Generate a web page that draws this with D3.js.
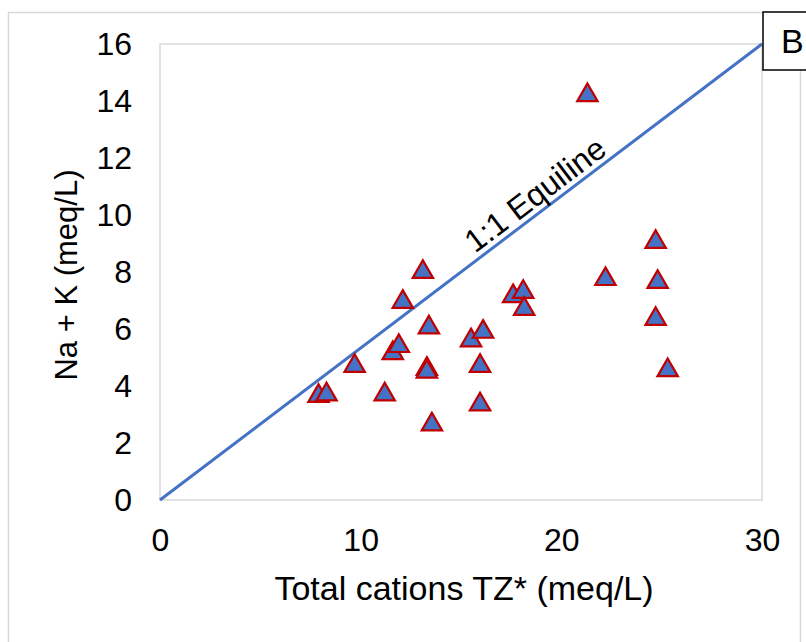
<!DOCTYPE html>
<html>
<head>
<meta charset="utf-8">
<script src="https://cdn.jsdelivr.net/npm/d3@7"></script>
<style>
  body { margin: 0; background: #fff; }
  text { font-family: "Liberation Sans", Arial, sans-serif; fill: #000; }
</style>
</head>
<body>
<div id="chart"></div>
<script>
"use strict";
// Sample values
const totalCations = [7.9, 8.3, 9.7, 11.2, 11.6, 11.9, 12.1, 13.1, 13.4, 13.3, 13.3, 13.55,
  15.5, 16.1, 15.95, 15.95, 17.6, 18.1, 18.15, 21.3, 22.2, 24.7, 24.8, 24.7, 25.3];
const naK = [3.65, 3.7, 4.7, 3.7, 5.15, 5.4, 6.95, 8.0, 6.05, 4.6, 4.5, 2.65,
  5.6, 5.9, 4.7, 3.35, 7.15, 7.3, 6.7, 14.2, 7.75, 9.05, 7.65, 6.35, 4.55];
const xTicks = [0, 10, 20, 30];
const yTicks = [0, 2, 4, 6, 8, 10, 12, 14, 16];
const equiline = [[0, 0], [30, 16]];

const W = 806, H = 642;
const margin = { top: 44, right: 44, bottom: 142, left: 160 };
const width = W - margin.left - margin.right,
  height = H - margin.top - margin.bottom;

const svg = d3.select("#chart").append("svg")
  .attr("width", W)
  .attr("height", H);

// outer chart frame
svg.append("rect")
  .attr("x", 8.5).attr("y", 12.5)
  .attr("width", 792).attr("height", 660)
  .attr("fill", "none")
  .attr("stroke", "#d9d9d9")
  .attr("stroke-width", 1.5);

const x = d3.scaleLinear().domain([0, 30]).range([0, width]);
const y = d3.scaleLinear().domain([0, 16]).range([height, 0]);

const g = svg.append("g")
  .attr("transform", "translate(" + margin.left + "," + margin.top + ")");

// plot area border
g.append("rect")
  .attr("width", width).attr("height", height)
  .attr("fill", "none")
  .attr("stroke", "#d9d9d9")
  .attr("stroke-width", 1.5);

// axes (labels only)
const xAxis = g.append("g")
  .attr("transform", "translate(0," + height + ")")
  .call(d3.axisBottom(x).tickValues(xTicks).tickSize(0).tickPadding(28));
const yAxis = g.append("g")
  .call(d3.axisLeft(y).tickValues(yTicks).tickSize(0).tickPadding(28));
[xAxis, yAxis].forEach(a => {
  a.select(".domain").remove();
  a.selectAll("text")
    .style("font-family", "'Liberation Sans', Arial, sans-serif")
    .style("font-size", "32px")
    .attr("fill", "#1a1a1a");
});

// 1:1 line
const line = d3.line().x(d => x(d[0])).y(d => y(d[1]));
g.append("path")
  .datum(equiline)
  .attr("d", line)
  .attr("fill", "none")
  .attr("stroke", "#4472c4")
  .attr("stroke-width", 3);

// rotated line label
const angle = Math.atan2(y(16) - y(0), x(30) - x(0)) * 180 / Math.PI;
const lx = x(19.2), ly = y(19.2 * 16 / 30);
g.append("text")
  .attr("transform", "translate(" + lx + "," + ly + ") rotate(" + angle + ")")
  .attr("dy", -6)
  .attr("text-anchor", "middle")
  .style("font-size", "32px")
  .attr("fill", "#1a1a1a")
  .text("1:1 Equiline");

// triangles
const tri = d3.symbol().type(d3.symbolTriangle).size(180);
g.selectAll(".pt")
  .data(totalCations.map((v, i) => [v, naK[i]]))
  .enter().append("path")
  .attr("class", "pt")
  .attr("d", tri)
  .attr("transform", d => "translate(" + x(d[0]) + "," + y(d[1]) + ")")
  .attr("fill", "#4472c4")
  .attr("stroke", "#c00000")
  .attr("stroke-width", 2.2);

// axis titles
svg.append("text")
  .attr("x", 464)
  .attr("y", 600)
  .attr("text-anchor", "middle")
  .style("font-size", "34px")
  .attr("fill", "#1a1a1a")
  .text("Total cations TZ* (meq/L)");
svg.append("text")
  .attr("transform", "translate(77,275) rotate(-90)")
  .attr("text-anchor", "middle")
  .style("font-size", "31px")
  .attr("fill", "#1a1a1a")
  .text("Na + K (meq/L)");

// panel letter box
svg.append("rect")
  .attr("x", 763).attr("y", 12)
  .attr("width", 60).attr("height", 58)
  .attr("fill", "#fff")
  .attr("stroke", "#000")
  .attr("stroke-width", 1.5);
svg.append("text")
  .attr("x", 781).attr("y", 53)
  .style("font-size", "34px")
  .attr("fill", "#1a1a1a")
  .text("B");
</script>
</body>
</html>
